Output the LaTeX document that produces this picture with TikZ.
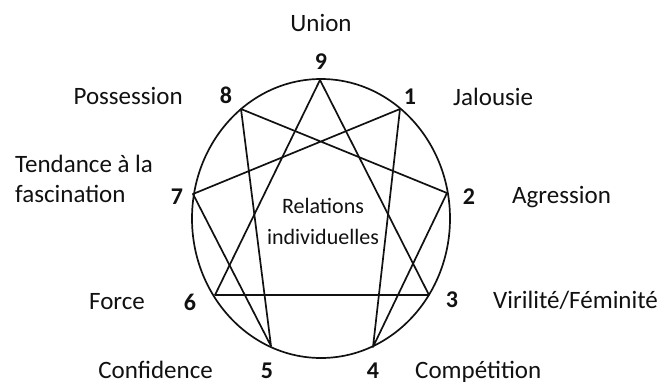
\documentclass[tikz,border=0pt]{standalone}
\usepackage{fontspec}
\setmainfont{Carlito}
\usetikzlibrary{positioning}
\definecolor{ink}{HTML}{111111}
\tikzset{
  trait/.style={font=\fontsize{25}{30}\selectfont, text=ink, inner sep=0pt},
  pointnum/.style={font=\fontsize{24}{28}\selectfont\bfseries, text=ink, inner sep=0pt},
  centre/.style={font=\fontsize{22}{31}\selectfont, text=ink, align=center, inner sep=0pt},
  enne/.style={line width=1.7pt, draw=ink, line join=round}
}
\begin{document}
\begin{tikzpicture}[x=1pt,y=-1pt]
  \useasboundingbox (0,0) rectangle (662,383);
  % points on the ellipse
  \coordinate (p9) at (320,80);
  \coordinate (p1) at (400,109);
  \coordinate (p2) at (447,193);
  \coordinate (p3) at (429,295);
  \coordinate (p4) at (373,347);
  \coordinate (p5) at (271,346);
  \coordinate (p6) at (215,295);
  \coordinate (p7) at (193,194);
  \coordinate (p8) at (241,109);
  \draw[enne] (321,218.5) ellipse[x radius=129, y radius=139.5];
  \draw[enne] (p9) -- (p3) -- (p6) -- cycle;
  \draw[enne] (p1) -- (p4) -- (p2) -- (p8) -- (p5) -- (p7) -- cycle;
  % numbers
  \node[pointnum] (n9) at (321,62) {9};
  \node[pointnum] (n1) at (410,97) {1};
  \node[pointnum] (n2) at (469,197) {2};
  \node[pointnum] (n3) at (452,300) {3};
  \node[pointnum, anchor=base] (n4) at (373,378) {4};
  \node[pointnum, anchor=base] (n5) at (267,378) {5};
  \node[pointnum] (n6) at (190,302) {6};
  \node[pointnum] (n7) at (177,197) {7};
  \node[pointnum] (n8) at (226,95) {8};
  % traits
  \node[trait] (union) at (321,23) {Union};
  \node[trait, anchor=west] (jalousie) at (453,97) {Jalousie};
  \node[trait, anchor=west] (agression) at (512,197) {Agression};
  \node[trait, anchor=west] (virilite) at (493,300) {Virilité/Féminité};
  \node[trait, anchor=base west] (competition) at (415,378) {Compétition};
  \node[trait, anchor=base east] (confidence) at (213,378) {Confidence};
  \node[trait, anchor=east] (force) at (145,302) {Force};
  \node[trait, anchor=west, align=left] (tendance) at (15,179) {Tendance à la\\fascination};
  \node[trait, anchor=east] (possession) at (183,96) {Possession};
  \node[centre] (relations) at (323,221) {Relations\\individuelles};
\end{tikzpicture}
\end{document}
